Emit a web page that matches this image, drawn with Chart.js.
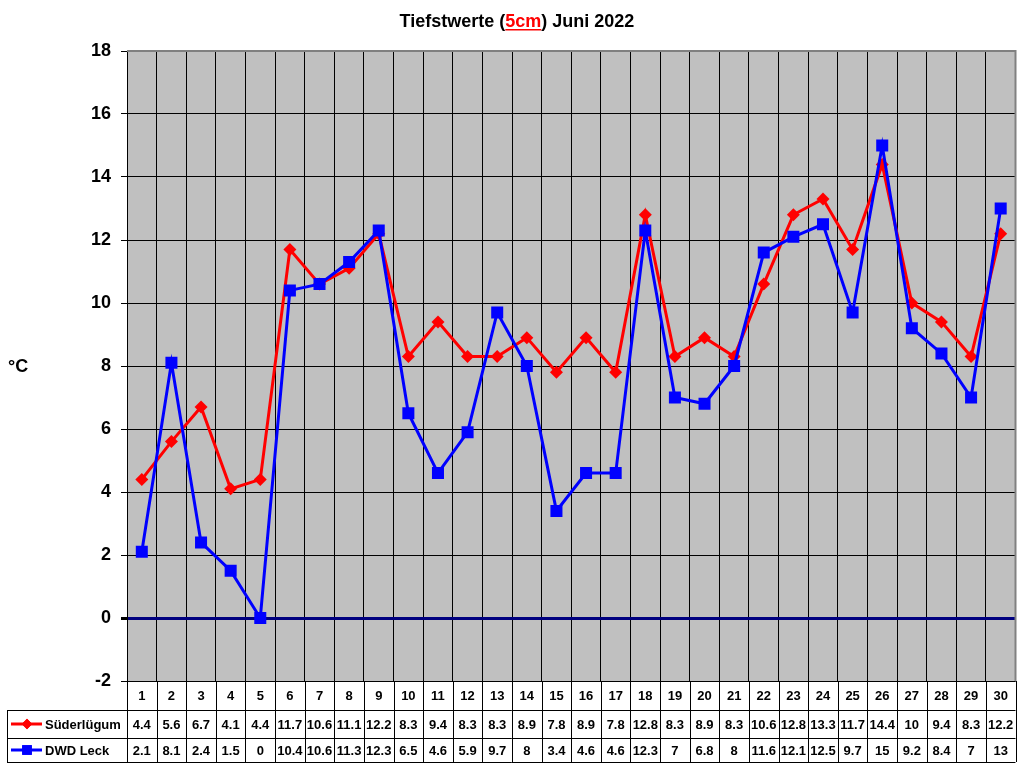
<!DOCTYPE html>
<html>
<head>
<meta charset="utf-8">
<script src="https://cdn.jsdelivr.net/npm/chart.js@4"></script>
<style>
  html, body { margin: 0; padding: 0; background: #fff; }
  #wrap { width: 1024px; height: 768px; }
</style>
</head>
<body>
<div id="wrap"><canvas id="chart" width="1024" height="768"></canvas></div>
<script>
// Tagesminima in 5 cm Höhe, Juni 2022
const days = ['1','2','3','4','5','6','7','8','9','10','11','12','13','14','15',
              '16','17','18','19','20','21','22','23','24','25','26','27','28','29','30'];
const suederluegum = [4.4, 5.6, 6.7, 4.1, 4.4, 11.7, 10.6, 11.1, 12.2, 8.3, 9.4, 8.3, 8.3, 8.9, 7.8,
                      8.9, 7.8, 12.8, 8.3, 8.9, 8.3, 10.6, 12.8, 13.3, 11.7, 14.4, 10, 9.4, 8.3, 12.2];
const dwdLeck = [2.1, 8.1, 2.4, 1.5, 0, 10.4, 10.6, 11.3, 12.3, 6.5, 4.6, 5.9, 9.7, 8, 3.4,
                 4.6, 4.6, 12.3, 7, 6.8, 8, 11.6, 12.1, 12.5, 9.7, 15, 9.2, 8.4, 7, 13];
const yTicks = [-2, 0, 2, 4, 6, 8, 10, 12, 14, 16, 18];

const FONT = 'Arial, "Liberation Sans", sans-serif';
Chart.defaults.font.family = FONT;

const series = [
  { label: 'Süderlügum', data: suederluegum, color: '#ff0000', style: 'rectRot', radius: 6.5 },
  { label: 'DWD Leck', data: dwdLeck, color: '#0000ff', style: 'rect', radius: 8.5 }
];

const tablePlugin = {
  id: 'tableAndFrame',
  beforeDraw(chart) {
    const { ctx, chartArea: a } = chart;
    ctx.save();
    ctx.fillStyle = '#fff';
    ctx.fillRect(0, 0, chart.width, chart.height);
    ctx.fillStyle = '#c0c0c0';
    ctx.fillRect(a.left, a.top, a.right - a.left, a.bottom - a.top);
    ctx.restore();
  },
  beforeDatasetsDraw(chart) {
    const { ctx, chartArea: a } = chart;
    ctx.save();
    ctx.strokeStyle = '#808080';
    ctx.lineWidth = 2;
    ctx.beginPath();
    ctx.moveTo(a.left, a.top);
    ctx.lineTo(a.right, a.top);
    ctx.lineTo(a.right, a.bottom);
    ctx.stroke();
    ctx.restore();
  },
  afterDraw(chart) {
    const { ctx, chartArea: a } = chart;
    const x = chart.scales.x;
    const step = x.getPixelForValue(1) - x.getPixelForValue(0);
    const rows = [a.bottom, 710, 738, 762];
    const labelLeft = 7;
    ctx.save();

    // table grid
    ctx.strokeStyle = '#000';
    ctx.lineWidth = 1;
    ctx.beginPath();
    ctx.moveTo(a.left + 0.5, rows[0]);
    ctx.lineTo(a.left + 0.5, rows[3]);
    for (let i = 0; i < days.length; i++) {
      const xr = Math.round(x.getPixelForValue(i) + step / 2) + 0.5;
      ctx.moveTo(xr, rows[0]);
      ctx.lineTo(xr, rows[3]);
    }
    ctx.moveTo(a.left, rows[0] + 0.5);
    ctx.lineTo(a.right, rows[0] + 0.5);
    for (let r = 1; r < rows.length; r++) {
      ctx.moveTo(labelLeft, rows[r] + 0.5);
      ctx.lineTo(a.right, rows[r] + 0.5);
    }
    ctx.moveTo(labelLeft + 0.5, rows[1]);
    ctx.lineTo(labelLeft + 0.5, rows[3]);
    ctx.stroke();

    // day numbers
    ctx.fillStyle = '#000';
    ctx.font = 'bold 13px ' + FONT;
    ctx.textAlign = 'center';
    ctx.textBaseline = 'middle';
    days.forEach((d, i) => {
      ctx.fillText(d, x.getPixelForValue(i), (rows[0] + rows[1]) / 2 + 1);
    });

    // series rows
    series.forEach((s, r) => {
      const yMid = (rows[r + 1] + rows[r + 2]) / 2 + 1;
      ctx.fillStyle = '#000';
      ctx.textAlign = 'center';
      s.data.forEach((v, i) => {
        ctx.fillText(String(v), x.getPixelForValue(i), yMid);
      });
      // legend key
      ctx.strokeStyle = s.color;
      ctx.lineWidth = 3;
      ctx.beginPath();
      ctx.moveTo(11, yMid - 1);
      ctx.lineTo(42, yMid - 1);
      ctx.stroke();
      ctx.fillStyle = s.color;
      Chart.helpers.drawPoint(ctx, { pointStyle: s.style, radius: s.radius * 0.8, rotation: 0 }, 27, yMid - 1);
      ctx.fill();
      ctx.fillStyle = '#000';
      ctx.textAlign = 'left';
      ctx.fillText(s.label, 45, yMid);
    });

    // title
    ctx.font = 'bold 18px ' + FONT;
    ctx.textAlign = 'left';
    ctx.textBaseline = 'alphabetic';
    const parts = [['Tiefstwerte (', '#000'], ['5cm', '#ff0000'], [') Juni 2022', '#000']];
    const total = parts.reduce((w, p) => w + ctx.measureText(p[0]).width, 0);
    let tx = 517 - total / 2;
    const ty = 27;
    parts.forEach(([t, c]) => {
      const w = ctx.measureText(t).width;
      ctx.fillStyle = c;
      ctx.fillText(t, tx, ty);
      if (c !== '#000') {
        ctx.fillRect(tx, ty + 2, w, 1.5);
      }
      tx += w;
    });

    // unit label
    ctx.fillStyle = '#000';
    ctx.font = 'bold 18px ' + FONT;
    ctx.textBaseline = 'middle';
    ctx.fillText('°C', 8, 367);
    ctx.restore();
  }
};

new Chart(document.getElementById('chart'), {
  type: 'line',
  data: {
    labels: days,
    datasets: series.map((s, i) => ({
      label: s.label,
      data: s.data,
      borderColor: s.color,
      backgroundColor: s.color,
      borderWidth: 3,
      pointStyle: s.style,
      pointRadius: s.radius,
      pointHoverRadius: s.radius,
      pointBorderWidth: 0,
      tension: 0,
      order: series.length - i
    }))
  },
  options: {
    responsive: false,
    animation: false,
    devicePixelRatio: 1,
    layout: { padding: { top: 51, right: 5, left: 0, bottom: 0 } },
    plugins: {
      legend: { display: false },
      title: { display: false },
      tooltip: { enabled: false }
    },
    scales: {
      x: {
        type: 'category',
        offset: true,
        grid: { offset: true, color: '#000', lineWidth: 1, drawTicks: false },
        border: { display: false },
        ticks: { display: false },
        afterFit(scale) { scale.height = 87; }
      },
      y: {
        min: -2,
        max: 18,
        afterBuildTicks(scale) { scale.ticks = yTicks.map(v => ({ value: v })); },
        grid: {
          color: c => c.tick && c.tick.value === 0 ? '#000080' : '#000',
          lineWidth: c => c.tick && c.tick.value === 0 ? 3 : 1,
          tickLength: 6,
          tickColor: '#000'
        },
        border: { display: true, color: '#000', width: 1 },
        ticks: {
          color: '#000',
          font: { size: 18, weight: 'bold' },
          padding: 10
        },
        afterFit(scale) { scale.width = 127; }
      }
    }
  },
  plugins: [tablePlugin]
});
</script>
</body>
</html>
